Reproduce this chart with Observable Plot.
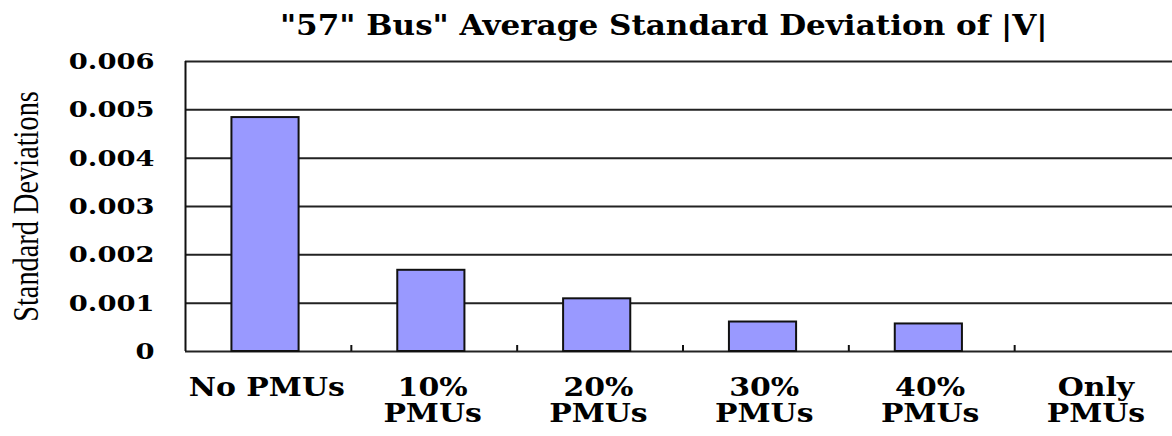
<!DOCTYPE html>
<html>
<head>
<meta charset="utf-8">
<script src="https://cdn.jsdelivr.net/npm/d3@7"></script>
<script src="https://cdn.jsdelivr.net/npm/@observablehq/plot@0.6"></script>
<style>
  html, body { margin: 0; padding: 0; background: #fff; overflow: hidden; }
  #title {
    width: 1172px; height: 46px; line-height: 46px;
    box-sizing: border-box; padding-left: 156px; text-align: center;
    font-family: "DejaVu Serif", serif; font-weight: bold; font-size: 27px; color: #000;
    white-space: nowrap; position: relative; top: 3px;
  }
  #title span { display: inline-block; transform-origin: center; }
</style>
</head>
<body>
<div id="title"><span>"57" Bus" Average Standard Deviation of |V|</span></div>
<div id="chart"></div>
<script>
const categories = ["No PMUs", "10%\nPMUs", "20%\nPMUs", "30%\nPMUs", "40%\nPMUs", "Only\nPMUs"];
const values = [0.00484, 0.00168, 0.00109, 0.00061, 0.00057, 0];
const yTicks = [0, 0.001, 0.002, 0.003, 0.004, 0.005, 0.006];
const yTickLabels = ["0", "0.001", "0.002", "0.003", "0.004", "0.005", "0.006"];
const yLabel = "Standard Deviations";

const data = categories.map((c, i) => ({c, i, v: values[i]}));
const n = categories.length;

const plot = Plot.plot({
  width: 1172,
  height: 390,
  marginTop: 15,
  marginBottom: 85,
  marginLeft: 185,
  marginRight: -8,
  style: {background: "#fff", fontFamily: "DejaVu Serif", color: "#000", overflow: "visible"},
  x: {domain: [0, n], axis: null, label: null},
  y: {domain: [0, 0.006], axis: null, label: null},
  marks: [
    Plot.ruleY(yTicks, {stroke: "#222", strokeWidth: 2}),
    Plot.ruleX([0], {y1: 0, y2: 0.006, stroke: "#111", strokeWidth: 2}),
    Plot.rectY(data.filter(d => d.v > 0), {
      x1: d => d.i + 0.28, x2: d => d.i + 0.685, y1: 0, y2: "v",
      fill: "#9999ff", stroke: "#111", strokeWidth: 2
    }),
    // boundary tick marks between categories (pointing up)
    Plot.axisX(d3.range(1, n), {tickSize: 6, dy: -6, tickFormat: () => "", label: null, stroke: "#111", strokeWidth: 2}),
    // category labels
    Plot.axisX(categories.map((_, i) => i + 0.49), {
      tickSize: 0, tickPadding: 27, tickFormat: v => categories[Math.floor(v)], label: null,
      fontSize: 26, fontWeight: "bold", lineHeight: 0.97, fill: "#000"
    }),
    Plot.axisY(yTicks, {
      tickSize: 0, tickPadding: 31, tickFormat: d => yTickLabels[yTicks.indexOf(d)], label: null,
      fontSize: 23, fontWeight: "bold", fill: "#000"
    }),
    Plot.text([yLabel], {
      text: d => d, frameAnchor: "left", textAnchor: "middle", rotate: -90, dx: -159,
      fontFamily: "Liberation Serif", fontSize: 35, fontWeight: "normal", fill: "#000",
      className: "ylab"
    })
  ]
});
document.getElementById("chart").appendChild(plot);

// horizontal stretch of text glyphs to match the wide rendering of the reference
function stretch(nodes, k) {
  nodes.forEach(el => {
    const t = el.getAttribute("transform") || "";
    el.setAttribute("transform", (t + ` scale(${k},1)`).trim());
  });
}
const svg = d3.select(plot);
stretch(svg.selectAll("[aria-label='x-axis tick label'] text").nodes(), 1.15);
stretch(svg.selectAll("[aria-label='y-axis tick label'] text").nodes(), 1.19);
svg.selectAll(".ylab text").each(function() {
  const len = this.getComputedTextLength();
  this.setAttribute("textLength", (len * 0.81).toFixed(1));
  this.setAttribute("lengthAdjust", "spacingAndGlyphs");
});
document.querySelector("#title span").style.transform = "scaleX(1.15)";
</script>
</body>
</html>
